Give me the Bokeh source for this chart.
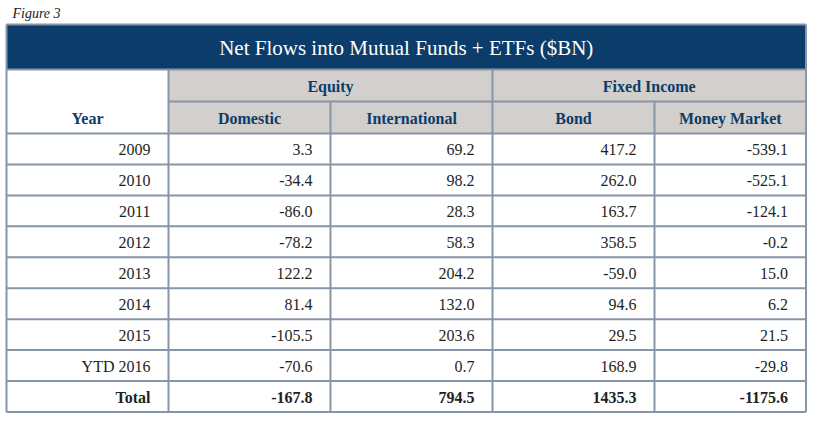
from bokeh.plotting import figure
from bokeh.models import Range1d
from bokeh.core.properties import value
from bokeh.embed import file_html
from bokeh.resources import INLINE

# ---- data ----
years = ["2009", "2010", "2011", "2012", "2013", "2014", "2015", "YTD 2016"]
domestic = [3.3, -34.4, -86.0, -78.2, 122.2, 81.4, -105.5, -70.6]
international = [69.2, 98.2, 28.3, 58.3, 204.2, 132.0, 203.6, 0.7]
bond = [417.2, 262.0, 163.7, 358.5, -59.0, 94.6, 29.5, 168.9]
money_market = [-539.1, -525.1, -124.1, -0.2, 15.0, 6.2, 21.5, -29.8]
totals = [-167.8, 794.5, 1435.3, -1175.6]
title = "Net Flows into Mutual Funds + ETFs ($BN)"
groups = ["Equity", "Fixed Income"]
subheads = ["Domestic", "International", "Bond", "Money Market"]

# ---- layout (pixel units) ----
W, H = 807, 413
FONT = "Liberation Serif"
NAVY = "#0c3c69"
GRAY = "#d3cfcc"
LINE = "#8795a8"
TXT = "#231f20"

p = figure(width=W, height=H, output_backend="svg", toolbar_location=None,
           x_range=Range1d(0, W), y_range=Range1d(H, 0),
           min_border=0)
p.axis.visible = False
p.grid.visible = False
p.outline_line_color = None
p.background_fill_color = "white"

L, R = 6, 805.5
top, title_bot = 24, 69
grp_bot, head_bot = 101, 133
bottom = 411.5
cols = [L, 168, 330, 492, 654, R]
n = len(years) + 1
row_h = (bottom - head_bot) / n
row_edges = [head_bot + row_h * i for i in range(n + 1)]

# title band
p.quad(left=[L], right=[R], top=[top], bottom=[title_bot], fill_color=NAVY, line_color=None)
# gray header cells
p.quad(left=[cols[1]], right=[R], top=[title_bot], bottom=[head_bot], fill_color=GRAY, line_color=None)

# lines
x0, y0, x1, y1 = [], [], [], []
for y in [top, title_bot] + row_edges:
    x0.append(L); x1.append(R); y0.append(y); y1.append(y)
x0.append(cols[1]); x1.append(R); y0.append(grp_bot); y1.append(grp_bot)
for x in [L, R]:
    x0.append(x); x1.append(x); y0.append(top); y1.append(bottom)
for x in [cols[1], cols[3]]:
    x0.append(x); x1.append(x); y0.append(title_bot); y1.append(bottom)
for x in [cols[2], cols[4]]:
    x0.append(x); x1.append(x); y0.append(grp_bot); y1.append(bottom)
p.segment(x0=x0, y0=y0, x1=x1, y1=y1, line_color=LINE, line_width=2)

# figure label
p.text(x=[12], y=[13], text=["Figure 3"], text_font=value(FONT), text_font_style="italic",
       text_font_size="14px", text_color="#222222", text_baseline="middle", text_align="left")
# title
p.text(x=[(L + R) / 2], y=[(top + title_bot) / 2 + 1], text=[title], text_font=value(FONT),
       text_font_size="21px", text_color="white", text_align="center", text_baseline="middle")
# group headers
p.text(x=[(cols[1] + cols[3]) / 2, (cols[3] + cols[5]) / 2], y=[(title_bot + grp_bot) / 2 + 1] * 2,
       text=groups, text_font=value(FONT), text_font_style="bold", text_font_size="16px",
       text_color=NAVY, text_align="center", text_baseline="middle")
# sub headers
sub_y = (grp_bot + head_bot) / 2 + 1
p.text(x=[(cols[0] + cols[1]) / 2] + [(cols[i] + cols[i + 1]) / 2 for i in range(1, 5)],
       y=[sub_y] * 5, text=["Year"] + subheads, text_font=value(FONT), text_font_style="bold",
       text_font_size="16px", text_color=NAVY, text_align="center", text_baseline="middle")

# body
fmt = lambda v: f"{v:.1f}"
series = [domestic, international, bond, money_market]
xs, ys, ts = [], [], []
for r, yr in enumerate(years):
    cy = (row_edges[r] + row_edges[r + 1]) / 2 + 1
    xs.append(cols[1] - 18); ys.append(cy); ts.append(yr)
    for c, s in enumerate(series):
        xs.append(cols[c + 2] - 18); ys.append(cy); ts.append(fmt(s[r]))
p.text(x=xs, y=ys, text=ts, text_font=value(FONT), text_font_size="16px", text_color=TXT,
       text_align="right", text_baseline="middle")
cy = (row_edges[-2] + row_edges[-1]) / 2 + 1
p.text(x=[cols[1] - 18] + [cols[c + 2] - 18 for c in range(4)], y=[cy] * 5,
       text=["Total"] + [fmt(t) for t in totals], text_font=value(FONT), text_font_style="bold",
       text_font_size="16px", text_color=TXT, text_align="right", text_baseline="middle")

open("out.html", "w").write(file_html(p, INLINE))
